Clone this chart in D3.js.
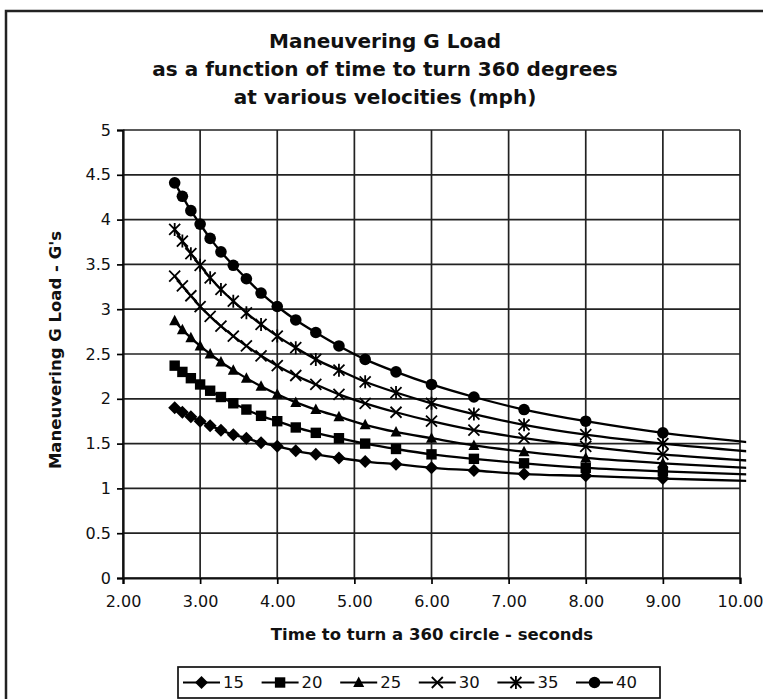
<!doctype html>
<html>
<head>
<meta charset="utf-8">
<script src="https://cdn.jsdelivr.net/npm/d3@7"></script>
<style>
  body { margin: 0; background: #fff; }
  svg { display: block; font-family: "DejaVu Sans", Verdana, sans-serif; }
</style>
</head>
<body>
<script>
// Time to complete the turn (seconds) – same for every series.
const times = [2.67, 2.77, 2.88, 3.00, 3.13, 3.27, 3.43, 3.60, 3.79, 4.00, 4.24,
               4.50, 4.80, 5.14, 5.54, 6.00, 6.55, 7.20, 8.00, 9.00, 10.29];

// G load for each velocity (mph).
const velocities = ["15", "20", "25", "30", "35", "40"];
const g15 = [1.90, 1.85, 1.80, 1.75, 1.70, 1.65, 1.60, 1.56, 1.51, 1.47, 1.42,
             1.38, 1.34, 1.30, 1.27, 1.23, 1.20, 1.16, 1.14, 1.11, 1.08];
const g20 = [2.37, 2.30, 2.23, 2.16, 2.09, 2.02, 1.95, 1.88, 1.81, 1.75, 1.68,
             1.62, 1.56, 1.50, 1.44, 1.38, 1.33, 1.28, 1.23, 1.19, 1.15];
const g25 = [2.87, 2.77, 2.68, 2.59, 2.50, 2.41, 2.32, 2.23, 2.14, 2.05, 1.96,
             1.88, 1.80, 1.71, 1.63, 1.56, 1.48, 1.41, 1.34, 1.28, 1.22];
const g30 = [3.37, 3.26, 3.15, 3.03, 2.92, 2.81, 2.70, 2.59, 2.48, 2.37, 2.26,
             2.16, 2.05, 1.95, 1.85, 1.75, 1.65, 1.56, 1.47, 1.38, 1.30];
const g35 = [3.89, 3.76, 3.62, 3.49, 3.35, 3.22, 3.09, 2.96, 2.83, 2.70, 2.57,
             2.44, 2.32, 2.19, 2.07, 1.95, 1.83, 1.71, 1.60, 1.50, 1.40];
const g40 = [4.41, 4.26, 4.10, 3.95, 3.79, 3.64, 3.49, 3.34, 3.18, 3.03, 2.88,
             2.74, 2.59, 2.44, 2.30, 2.16, 2.02, 1.88, 1.75, 1.62, 1.50];
const loads = [g15, g20, g25, g30, g35, g40];
const markers = ["diamond", "square", "triangle", "cross", "star", "circle"];

const xTicks = [2, 3, 4, 5, 6, 7, 8, 9, 10];
const yTicks = [0, 0.5, 1, 1.5, 2, 2.5, 3, 3.5, 4, 4.5, 5];
const titleLines = ["Maneuvering G Load",
                    "as a function of time to turn 360 degrees",
                    "at various velocities (mph)"];

const width = 763, height = 699;
const marginLeft = 123, marginRight = 23, marginTop = 130, marginBottom = 121;

const x = d3.scaleLinear([2, 10], [marginLeft, width - marginRight]);
const y = d3.scaleLinear([0, 5], [height - marginBottom, marginTop]);

const svg = d3.select("body").append("svg")
    .attr("width", width)
    .attr("height", height)
    .attr("viewBox", [0, 0, width, height]);

// Chart area frame (only top and left edges fall inside the picture).
svg.append("rect")
    .attr("x", 6).attr("y", 11)
    .attr("width", width + 20).attr("height", height + 20)
    .attr("fill", "none")
    .attr("stroke", "#222")
    .attr("stroke-width", 2.5);

// Title
svg.append("g")
    .attr("font-weight", "bold")
    .attr("font-size", 20)
    .attr("fill", "#111")
    .attr("text-anchor", "middle")
  .selectAll("text")
  .data(titleLines)
  .join("text")
    .attr("x", 385)
    .attr("y", (d, i) => 48 + i * 28)
    .text((d) => d);

// Gridlines
svg.append("g")
    .attr("stroke", "#222")
    .attr("stroke-width", 1.7)
    .call((g) => g.selectAll("line.h")
      .data(yTicks)
      .join("line")
        .attr("x1", x(2)).attr("x2", x(10))
        .attr("y1", (d) => y(d)).attr("y2", (d) => y(d)))
    .call((g) => g.selectAll("line.v")
      .data(xTicks, (d) => "v" + d)
      .join("line")
        .attr("x1", (d) => x(d)).attr("x2", (d) => x(d))
        .attr("y1", y(0)).attr("y2", y(5)));

// Axes
svg.append("g")
    .attr("transform", `translate(0,${y(0)})`)
    .call(d3.axisBottom(x).tickValues(xTicks).tickFormat(d3.format(".2f")).tickSize(6).tickPadding(12))
    .call((g) => g.select(".domain").attr("stroke-width", 2.2).attr("stroke", "#111"))
    .call((g) => g.selectAll(".tick line").attr("stroke-width", 1.7))
    .call((g) => g.selectAll(".tick text").attr("font-size", 16).attr("fill", "#111")
      .attr("font-family", "DejaVu Sans"));

svg.append("g")
    .attr("transform", `translate(${x(2)},0)`)
    .call(d3.axisLeft(y).tickValues(yTicks).tickFormat(d3.format("")).tickSize(6).tickPadding(6))
    .call((g) => g.select(".domain").attr("stroke-width", 2.2).attr("stroke", "#111"))
    .call((g) => g.selectAll(".tick line").attr("stroke-width", 1.7))
    .call((g) => g.selectAll(".tick text").attr("font-size", 16).attr("fill", "#111")
      .attr("font-family", "DejaVu Sans"));

// Axis titles
svg.append("text")
    .attr("x", 432).attr("y", 640)
    .attr("text-anchor", "middle")
    .attr("font-weight", "bold")
    .attr("font-size", 16.5)
    .attr("fill", "#111")
    .text("Time to turn a 360 circle - seconds");

svg.append("text")
    .attr("transform", `translate(61,${y(2.5) - 4}) rotate(-90)`)
    .attr("text-anchor", "middle")
    .attr("font-weight", "bold")
    .attr("font-size", 16.5)
    .attr("fill", "#111")
    .text("Maneuvering G Load - G's");

// Marker drawing
function drawMarker(sel, type) {
  if (type === "diamond") {
    sel.append("path").attr("d", "M0,-6.5L6.5,0L0,6.5L-6.5,0Z").attr("fill", "#000");
  } else if (type === "square") {
    sel.append("rect").attr("x", -5.2).attr("y", -5.2).attr("width", 10.4).attr("height", 10.4).attr("fill", "#000");
  } else if (type === "triangle") {
    sel.append("path").attr("d", "M0,-6L5.5,4.5L-5.5,4.5Z").attr("fill", "#000");
  } else if (type === "cross") {
    sel.append("path").attr("d", "M-5.5,-5.5L5.5,5.5M-5.5,5.5L5.5,-5.5").attr("stroke", "#000").attr("stroke-width", 1.8).attr("fill", "none");
  } else if (type === "star") {
    sel.append("path").attr("d", "M-5.5,-5.5L5.5,5.5M-5.5,5.5L5.5,-5.5M0,-6.5L0,6.5").attr("stroke", "#000").attr("stroke-width", 1.8).attr("fill", "none");
  } else {
    sel.append("circle").attr("r", 5.8).attr("fill", "#000");
  }
}

// Series
svg.append("clipPath").attr("id", "clip")
  .append("rect")
    .attr("x", x(2)).attr("y", y(5))
    .attr("width", x(10.08) - x(2)).attr("height", y(0) - y(5));

const line = d3.line()
    .x((d) => x(d[0]))
    .y((d) => y(d[1]))
    .curve(d3.curveCatmullRom);

const series = svg.append("g").attr("clip-path", "url(#clip)")
  .selectAll("g")
  .data(velocities.map((v, i) => ({v, marker: markers[i], points: times.map((t, j) => [t, loads[i][j]])})))
  .join("g");

series.append("path")
    .attr("fill", "none")
    .attr("stroke", "#000")
    .attr("stroke-width", 2.3)
    .attr("d", (d) => line(d.points));

series.each(function(d) {
  d3.select(this).selectAll("g.m")
    .data(d.points.filter((p) => p[0] <= 10))
    .join("g")
      .attr("class", "m")
      .attr("transform", (p) => `translate(${x(p[0])},${y(p[1])})`)
      .each(function() { drawMarker(d3.select(this), d.marker); });
});

// Legend
const legend = svg.append("g");
legend.append("rect")
    .attr("x", 178).attr("y", 667)
    .attr("width", 482).attr("height", 31)
    .attr("fill", "#fff")
    .attr("stroke", "#111")
    .attr("stroke-width", 1.7);

const item = legend.selectAll("g.item")
  .data(velocities)
  .join("g")
    .attr("class", "item")
    .attr("transform", (d, i) => `translate(${183 + i * 78.6},682.5)`);

item.append("line")
    .attr("x1", 0).attr("x2", 37)
    .attr("stroke", "#000").attr("stroke-width", 2.2);

item.append("g")
    .attr("transform", "translate(18.5,0)")
    .each(function(d, i) { drawMarker(d3.select(this), markers[i]); });

item.append("text")
    .attr("x", 40).attr("dy", "0.36em")
    .attr("font-size", 16.5)
    .attr("fill", "#111")
    .text((d) => d);
</script>
</body>
</html>
